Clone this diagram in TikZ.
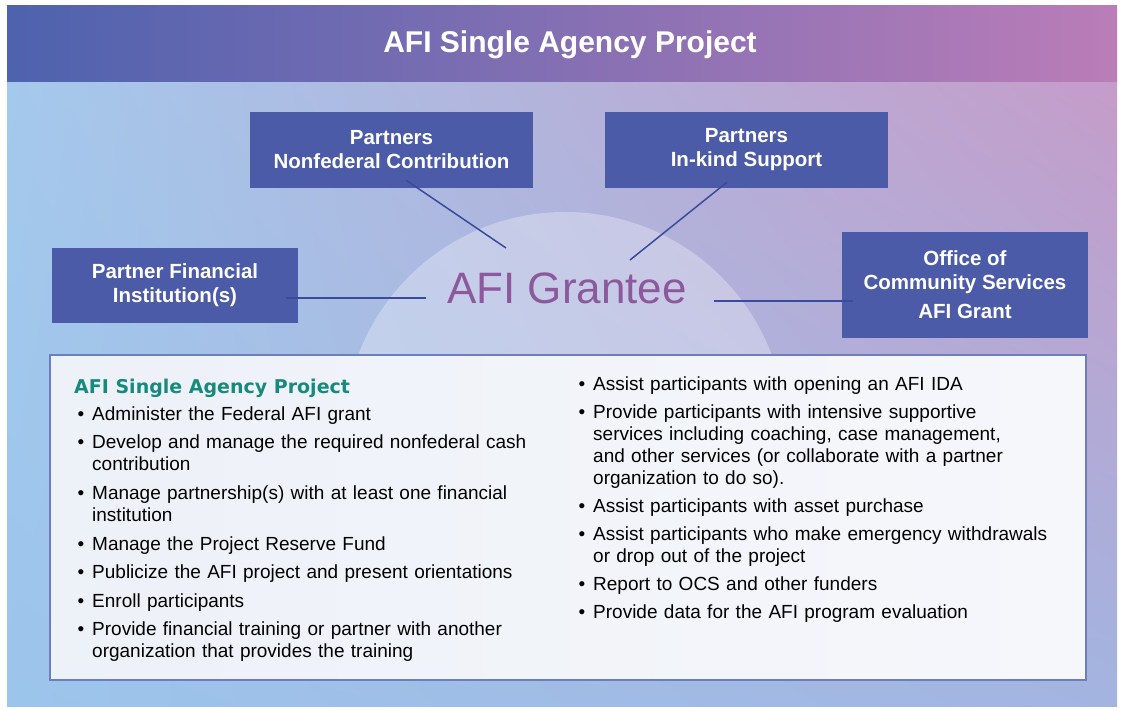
\documentclass[tikz,border=0pt]{standalone}
\usepackage{fontspec}
\setmainfont{Liberation Sans}
\newfontfamily\headfont{DejaVu Sans}
\usepackage{enumitem}
\usetikzlibrary{positioning, shadings}

\definecolor{bannerleft}{HTML}{4E62AE}
\definecolor{bannerright}{HTML}{BA7DB8}
\definecolor{bgul}{HTML}{A4C9EC}
\definecolor{bgur}{HTML}{C59CC9}
\definecolor{bgll}{HTML}{9CC5EC}
\definecolor{bglr}{HTML}{A3B4E0}
\definecolor{boxblue}{HTML}{4B5BA8}
\definecolor{linkblue}{HTML}{3A4A9C}
\definecolor{grantee}{HTML}{8C5A9C}
\definecolor{headteal}{HTML}{168A7C}
\definecolor{paneledge}{HTML}{6E7DBE}
\definecolor{panelleft}{HTML}{EDF1F8}
\definecolor{panelright}{HTML}{F6F7FB}

\begin{document}
\begin{tikzpicture}[x = 1pt, y = -1pt,
		partner/.style = {fill = boxblue, text = white, align = center, inner sep = 0pt,
			font = \fontsize{20.5}{24}\selectfont\bfseries},
		link/.style = {draw = linkblue, line width = 1.5pt},
		duties/.style = {anchor = north west, inner sep = 0pt, text width = 480pt,
			font = \fontsize{19}{22}\selectfont}
	]
	\useasboundingbox [fill = white] (0, 0) rectangle (1124, 711);

	\shade [upper left = bgul, upper right = bgur, lower left = bgll, lower right = bglr] (7, 82) rectangle (1117, 706);
	\shade [left color = bannerleft, right color = bannerright] (7, 6) rectangle (1117, 82);
	\fill [white, opacity = 0.3] (565, 433) circle (221);

	\node [text = white, font = \fontsize{30}{36}\selectfont\bfseries] (title) at (570, 45) {AFI Single Agency Project};

	\node [partner, minimum width = 283pt, minimum height = 76pt] (nonfed) at (391.5, 150) {Partners\\Nonfederal Contribution};
	\node [partner, minimum width = 283pt, minimum height = 76pt] (inkind) at (746.5, 150) {Partners\\In-kind Support};
	\node [partner, minimum width = 246pt, minimum height = 75pt] (fininst) at (175, 285.5) {Partner Financial\\Institution(s)};
	\node [partner, minimum width = 246pt, minimum height = 106pt] (ocs) at (965, 285) {Office of\\Community Services\\[5pt]AFI Grant};

	\node [text = grantee, inner sep = 0pt, font = \fontsize{44}{50}\selectfont] (grantee) at (567, 288) {AFI Grantee};

	\draw [link] ([xshift = 14.5pt, yshift = 8pt]nonfed.south) -- ([xshift = -61pt, yshift = 40pt]grantee.center);
	\draw [link] ([xshift = -19.5pt, yshift = 6pt]inkind.south) -- ([xshift = 63pt, yshift = 28pt]grantee.center);
	\draw [link] ([xshift = -12pt, yshift = -12.5pt]fininst.east) -- ([xshift = -21pt, yshift = -10pt]grantee.west);
	\draw [link] ([xshift = 11pt, yshift = -16pt]ocs.west) -- ([xshift = 27pt, yshift = -13pt]grantee.east);

	\draw [draw = paneledge, line width = 1.5pt, left color = panelleft, right color = panelright] (50, 355) rectangle (1086, 680);

	\node [anchor = base west, inner sep = 0pt, text = headteal, font = \headfont\fontsize{19}{22}\selectfont\bfseries] (heading) at (74, 393) {AFI Single Agency Project};

	\node [duties] (leftduties) at (74, 398) {\raggedright
		\begin{itemize}[leftmargin = 18pt, labelsep = 8pt, itemsep = 6.6pt, parsep = 0pt, topsep = 0pt, partopsep = 0pt, label = \textbullet]
			\item Administer the Federal AFI grant
			\item Develop and manage the required nonfederal cash\newline contribution
			\item Manage partnership(s) with at least one financial\newline institution
			\item Manage the Project Reserve Fund
			\item Publicize the AFI project and present orientations
			\item Enroll participants
			\item Provide financial training or partner with another\newline organization that provides the training
		\end{itemize}};

	\node [duties] (rightduties) at (575, 368) {\raggedright
		\begin{itemize}[leftmargin = 18pt, labelsep = 8pt, itemsep = 6pt, parsep = 0pt, topsep = 0pt, partopsep = 0pt, label = \textbullet]
			\item Assist participants with opening an AFI IDA
			\item Provide participants with intensive supportive\newline services including coaching, case management,\newline and other services (or collaborate with a partner\newline organization to do so).
			\item Assist participants with asset purchase
			\item Assist participants who make emergency withdrawals\newline or drop out of the project
			\item Report to OCS and other funders
			\item Provide data for the AFI program evaluation
		\end{itemize}};
\end{tikzpicture}
\end{document}
